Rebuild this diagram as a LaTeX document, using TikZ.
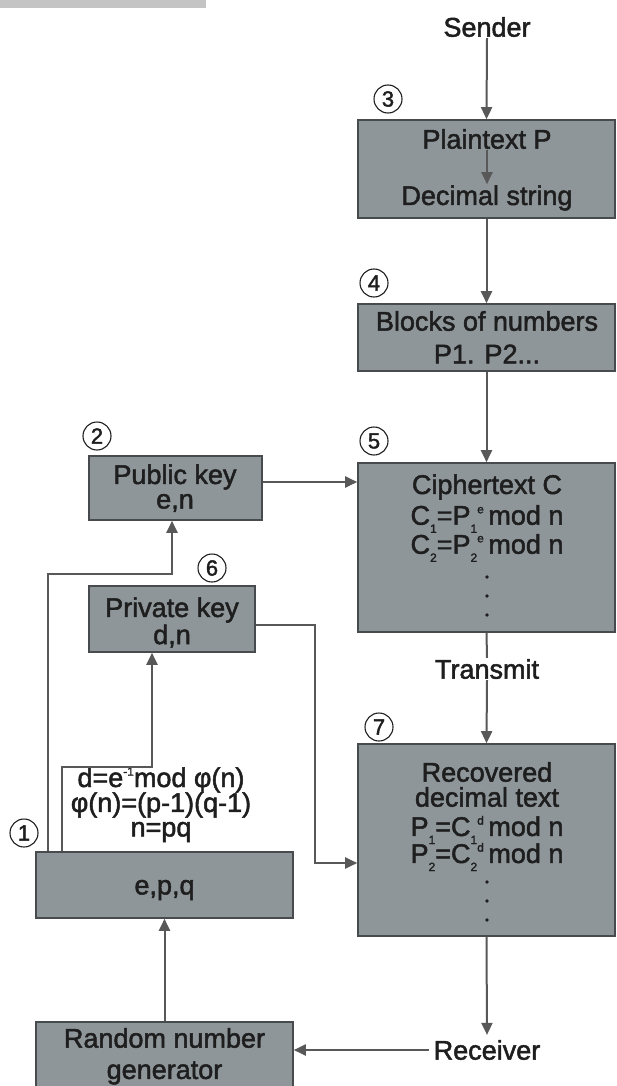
\documentclass[tikz,border=0pt]{standalone}
\usepackage{fontspec}
\setmainfont{Liberation Sans}[FakeBold=1.8]
\usetikzlibrary{arrows.meta,calc}
\definecolor{boxfill}{RGB}{142,150,154}
\definecolor{boxline}{RGB}{72,75,77}
\definecolor{arrc}{RGB}{88,88,88}
\definecolor{txt}{RGB}{30,30,30}
\definecolor{barc}{RGB}{196,196,196}
\newcommand\sbx[1]{\raisebox{-0.3em}{\fontsize{12}{12}\selectfont #1}}
\newcommand\spx[1]{\raisebox{0.42em}{\fontsize{12}{12}\selectfont #1}}
\begin{document}
\begin{tikzpicture}[x=1pt,y=-1pt,
  box/.style={draw=boxline, fill=boxfill, line width=1.6pt, inner sep=0pt},
  lbl/.style={text=txt, font=\fontsize{27}{30}\selectfont, inner sep=1pt},
  num/.style={circle, draw=txt, fill=white, line width=1.1pt, minimum size=28pt, inner sep=0pt, text=txt, font=\fontsize{22}{24}\selectfont},
  arr/.style={draw=arrc, line width=2pt, -{Triangle[length=12pt,width=11pt]}},
  ln/.style={draw=arrc, line width=2pt}]
\useasboundingbox (0,0) rectangle (616,1086);
\fill[barc] (0,0) rectangle (206,8);
% boxes
\node[box, minimum width=257pt, minimum height=98pt] (b3) at (486.5,169) {};
\node[box, minimum width=257pt, minimum height=67pt] (b4) at (486.5,337.5) {};
\node[box, minimum width=257pt, minimum height=169pt] (b5) at (486.5,547.5) {};
\node[box, minimum width=257pt, minimum height=192pt] (b7) at (486.5,840) {};
\node[box, minimum width=173pt, minimum height=64pt] (pub) at (175.5,488) {};
\node[box, minimum width=166pt, minimum height=66pt] (priv) at (172,619) {};
\node[box, minimum width=257pt, minimum height=66pt] (epq) at (164.5,885) {};
\node[box, minimum width=257pt, minimum height=70pt] (rng) at (164.5,1057) {};
% texts
\node[lbl] (sender) at (487,27) {Sender};
\node[lbl] (pt) at (487,139) {Plaintext P};
\node[lbl] (ds) at (487,198) {Decimal string};
\node[lbl] at (487,321) {Blocks of numbers};
\node[lbl] at (487,354) {P1. P2...};
\node[lbl] at (487,487) {Ciphertext C};
\node[lbl] at (487,519) {C\sbx{1}=P\sbx{1}\spx{e}\,mod n};
\node[lbl] at (487,548) {C\sbx{2}=P\sbx{2}\spx{e}\,mod n};
\foreach \yy in {577,596,615} \fill[txt] (487,\yy) circle (1.8pt);
\node[lbl] at (175,477) {Public key};
\node[lbl] at (175,503) {e,n};
\node[lbl] at (172,610) {Private key};
\node[lbl] at (172,636) {d,n};
\node[lbl] (tr) at (487,669) {Transmit};
\node[lbl] at (487,772) {Recovered};
\node[lbl] at (487,797) {decimal text};
\node[lbl] at (487,830) {P\sbx{1}=C\sbx{1}\spx{d}\,mod n};
\node[lbl] at (487,857) {P\sbx{2}=C\sbx{2}\spx{d}\,mod n};
\foreach \yy in {882,901,920} \fill[txt] (487,\yy) circle (1.8pt);
\node[lbl] at (161,780) {d=e\spx{-1}mod φ(n)};
\node[lbl] at (161,805) {φ(n)=(p-1)(q-1)};
\node[lbl] at (161,832) {n=pq};
\node[lbl] at (164.5,890) {e,p,q};
\node[lbl, inner sep=5pt] (recv) at (487,1050) {Receiver};
\node[lbl] at (164.5,1038) {Random number};
\node[lbl] at (164.5,1073) {generator};
% step numbers
\node[num] at (388,99) {3};
\node[num] at (374,283) {4};
\node[num] at (97,436) {2};
\node[num] at (374,441) {5};
\node[num] at (212,568) {6};
\node[num] at (379,727) {7};
\node[num] at (24,833) {1};
% connectors
\draw[arr] (sender.south) -- (b3.north);
\draw[arr] (pt.south) -- (ds.north);
\draw[arr] (b3.south) -- (b4.north);
\draw[arr] (b4.south) -- (b5.north);
\path ([yshift=6pt]pub.east) coordinate (pe);
\draw[arr] (pe) -- (pe -| b5.west);
\draw[ln] (b5.south) -- (tr.north);
\draw[arr] (tr.south) -- (b7.north);
\draw[arr] (b7.south) -- (recv.north);
\draw[arr] (recv.west) -- (recv.west -| rng.east);
\draw[arr] (rng.north) -- (epq.south);
\draw[arr] ([xshift=13pt]epq.north west) -- ++(0,-277) -| ([xshift=-3.5pt]pub.south);
\draw[arr] ([xshift=27pt]epq.north west) -- ++(0,-84) -| ([xshift=-20pt]priv.south);
\draw[arr] ([yshift=-6pt]priv.east) -- ++(59,0) |- ([yshift=-23pt]b7.west);
\end{tikzpicture}
\end{document}
